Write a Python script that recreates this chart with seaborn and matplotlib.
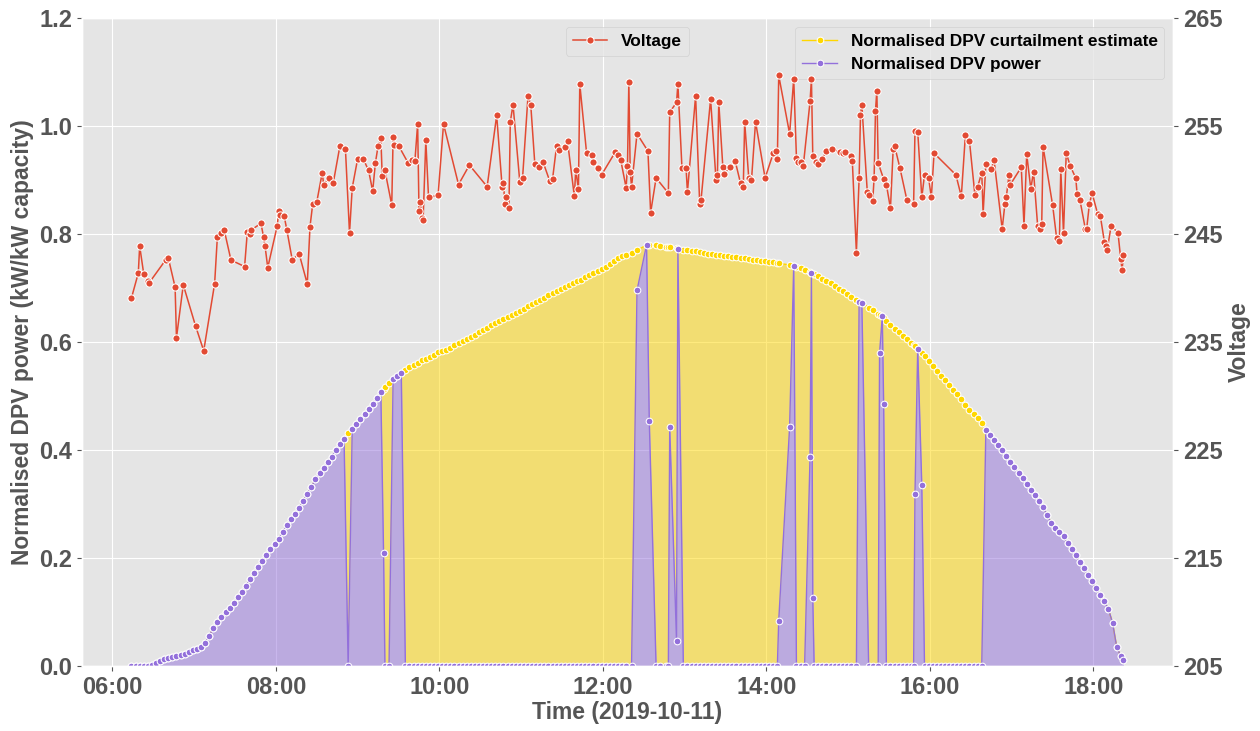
import pandas as pd
import matplotlib
matplotlib.use("Agg")
import matplotlib.pyplot as plt
import matplotlib.dates as mdates
import seaborn as sns

# ==============================
# Data
# ==============================

day = "2019-10-11"

volt_time = [
    "06:14", "06:19", "06:20", "06:23", "06:26", "06:27", "06:39", "06:41", "06:46", "06:47", "06:52",
    "07:01", "07:07", "07:15", "07:17", "07:20", "07:22", "07:27", "07:37", "07:39", "07:41", "07:42",
    "07:49", "07:51", "07:52", "07:54",
    "08:01", "08:02", "08:03", "08:06", "08:08", "08:12", "08:17", "08:23", "08:25", "08:27", "08:30",
    "08:34", "08:35", "08:39", "08:42", "08:47", "08:51", "08:54", "08:56",
    "09:00", "09:04", "09:08", "09:11", "09:13", "09:15", "09:17", "09:18", "09:20", "09:25", "09:26",
    "09:27", "09:30", "09:37", "09:40", "09:42", "09:44", "09:45", "09:46", "09:47", "09:48", "09:50",
    "09:52", "09:59",
    "10:03", "10:14", "10:22", "10:35", "10:42", "10:46", "10:47", "10:48", "10:49", "10:51", "10:52",
    "10:54", "10:59",
    "11:01", "11:05", "11:07", "11:10", "11:13", "11:16", "11:21", "11:23", "11:26", "11:28", "11:32",
    "11:34", "11:39", "11:40", "11:42", "11:43", "11:48", "11:52", "11:53", "11:56", "11:59",
    "12:09", "12:11", "12:13", "12:17", "12:18", "12:19", "12:20", "12:21", "12:25", "12:33", "12:35",
    "12:39", "12:48", "12:49", "12:54", "12:55", "12:58",
    "13:01", "13:02", "13:08", "13:11", "13:12", "13:19", "13:23", "13:24", "13:25", "13:28", "13:29",
    "13:33", "13:37", "13:41", "13:43", "13:44", "13:47", "13:49", "13:52", "13:59",
    "14:05", "14:07", "14:08", "14:09", "14:17", "14:20", "14:22", "14:23", "14:25", "14:27", "14:32",
    "14:33", "14:34", "14:36", "14:38", "14:41", "14:44", "14:48", "14:54", "14:56", "14:58",
    "15:02", "15:03", "15:06", "15:08", "15:09", "15:10", "15:14", "15:15", "15:18", "15:19", "15:20",
    "15:21", "15:22", "15:26", "15:28", "15:31", "15:33", "15:34", "15:38", "15:43", "15:48", "15:49",
    "15:51", "15:54", "15:56", "15:59",
    "16:01", "16:03", "16:19", "16:23", "16:26", "16:29", "16:33", "16:35", "16:38", "16:39", "16:41",
    "16:45", "16:47", "16:53", "16:55", "16:56", "16:58", "16:59",
    "17:07", "17:09", "17:11", "17:14", "17:16", "17:19", "17:21", "17:22", "17:23", "17:30", "17:33",
    "17:35", "17:36", "17:38", "17:40", "17:43", "17:47", "17:48", "17:50", "17:54", "17:55", "17:57",
    "17:59",
    "18:03", "18:05", "18:08", "18:09", "18:10", "18:13", "18:18", "18:20", "18:21", "18:22",
]
volt_value = [
    239.1, 241.4, 243.9, 241.3, 240.7, 240.5, 242.6, 242.8, 240.1, 235.4, 240.3,
    236.5, 234.2, 240.4, 244.7, 245.1, 245.4, 242.6, 242.0, 245.2, 245.0, 245.4,
    246.0, 244.7, 243.9, 241.9,
    245.8, 247.1, 246.8, 246.7, 245.4, 242.6, 243.2, 240.4, 245.7, 247.8, 248.0,
    250.7, 249.6, 250.2, 249.7, 253.2, 252.9, 245.1, 249.3,
    252.0, 252.0, 250.9, 249.0, 251.6, 253.2, 253.9, 250.4, 250.9, 247.7, 254.0,
    253.3, 253.2, 251.6, 251.9, 251.8, 255.2, 247.1, 248.0, 246.5, 246.3, 253.7,
    248.4, 248.6,
    255.2, 249.6, 251.4, 249.4, 256.0, 249.4, 249.7, 247.8, 248.4, 247.4, 255.4,
    257.0, 249.8,
    250.2, 257.8, 257.0, 251.5, 251.2, 251.7, 249.9, 250.1, 253.2, 252.8, 253.1,
    253.6, 248.5, 250.9, 249.2, 258.9, 252.5, 252.3, 251.7, 251.1, 250.5,
    252.6, 252.3, 251.9, 249.3, 251.3, 259.1, 250.8, 249.4, 254.3, 252.7, 247.0,
    250.2, 248.8, 256.3, 257.2, 258.9, 251.1,
    251.1, 248.9, 257.8, 247.8, 248.2, 257.5, 250.0, 250.5, 257.2, 251.2, 250.6,
    251.2, 251.8, 249.7, 249.4, 255.4, 250.2, 250.0, 255.4, 250.2,
    252.5, 252.7, 252.0, 259.7, 254.3, 259.4, 252.1, 251.7, 251.7, 251.3, 257.3,
    259.4, 252.2, 251.7, 251.5, 252.0, 252.7, 252.9, 252.6, 252.5, 252.6,
    252.2, 251.8, 243.3, 250.2, 256.0, 257.0, 248.9, 248.6, 248.1, 250.2, 256.4,
    258.3, 251.6, 250.1, 249.6, 247.4, 252.9, 253.2, 251.1, 248.2, 247.8, 254.6,
    254.5, 248.4, 250.5, 250.2,
    248.4, 252.5, 250.5, 248.5, 254.2, 253.6, 248.6, 249.4, 250.7, 246.9, 251.5,
    251.0, 251.9, 245.5, 247.8, 248.4, 250.5, 249.6,
    251.2, 245.8, 252.4, 249.2, 250.8, 245.8, 245.5, 245.9, 253.1, 247.7, 244.6,
    244.4, 251.0, 245.1, 252.5, 251.3, 250.2, 248.7, 248.2, 245.5, 245.5, 247.8,
    248.8,
    246.9, 246.7, 244.3, 243.9, 243.5, 245.8, 245.1, 242.7, 241.7, 243.1,
]

pwr_time = [
    "06:14", "06:17", "06:20", "06:23", "06:26", "06:29", "06:32", "06:35", "06:38", "06:41", "06:44",
    "06:47", "06:50", "06:53", "06:56", "06:59",
    "07:02", "07:05", "07:08", "07:11", "07:14", "07:17", "07:20", "07:23", "07:26", "07:29",
    "07:32", "07:35", "07:38", "07:41", "07:44", "07:47", "07:50", "07:53", "07:56", "07:59",
    "08:02", "08:05", "08:08", "08:11", "08:14", "08:17", "08:20", "08:23", "08:26", "08:29",
    "08:32", "08:35", "08:38", "08:41", "08:44", "08:47", "08:50", "08:53", "08:56", "08:59",
    "09:02", "09:05", "09:08", "09:11", "09:14", "09:17", "09:19", "09:20", "09:23", "09:26", "09:29",
    "09:32", "09:35", "09:38", "09:41", "09:44", "09:47", "09:50", "09:53", "09:56", "09:59",
    "10:02", "10:05", "10:08", "10:11", "10:14", "10:17", "10:20", "10:23", "10:26", "10:29",
    "10:32", "10:35", "10:38", "10:41", "10:44", "10:47", "10:50", "10:53", "10:56", "10:59",
    "11:02", "11:05", "11:08", "11:11", "11:14", "11:17", "11:20", "11:23", "11:26", "11:29",
    "11:32", "11:35", "11:38", "11:41", "11:44", "11:47", "11:50", "11:53", "11:56", "11:59",
    "12:02", "12:05", "12:08", "12:11", "12:14", "12:17", "12:21", "12:25", "12:32", "12:34",
    "12:39", "12:42", "12:46", "12:48", "12:49", "12:54", "12:55", "12:59",
    "13:02", "13:05", "13:08", "13:11", "13:14", "13:17", "13:20", "13:23", "13:26", "13:29",
    "13:32", "13:35", "13:38", "13:41", "13:44", "13:47", "13:50", "13:53", "13:56", "13:59",
    "14:02", "14:05", "14:08", "14:09", "14:17", "14:20", "14:22", "14:25", "14:28", "14:32", "14:33",
    "14:34", "14:35", "14:38", "14:41", "14:44", "14:47", "14:50", "14:53", "14:56", "14:59",
    "15:02", "15:06", "15:08", "15:10", "15:15", "15:18", "15:22", "15:23", "15:25", "15:26", "15:28",
    "15:31", "15:34", "15:37", "15:40", "15:43", "15:46", "15:48", "15:49", "15:51", "15:54", "15:56",
    "15:59",
    "16:02", "16:05", "16:08", "16:11", "16:14", "16:17", "16:20", "16:23", "16:26", "16:29",
    "16:32", "16:35", "16:38", "16:41", "16:44", "16:47", "16:50", "16:53", "16:56", "16:59",
    "17:02", "17:05", "17:08", "17:11", "17:14", "17:17", "17:20", "17:23", "17:26", "17:29",
    "17:32", "17:35", "17:38", "17:41", "17:44", "17:47", "17:50", "17:53", "17:56", "17:59",
    "18:02", "18:05", "18:08", "18:11", "18:14", "18:17", "18:20", "18:22",
]
# curtailment estimate = what the system could have produced
pwr_estimate = [
    0.0, 0.0, 0.0, 0.0, 0.0, 0.002, 0.005, 0.009, 0.012, 0.015, 0.017,
    0.018, 0.020, 0.022, 0.025, 0.029,
    0.032, 0.036, 0.043, 0.056, 0.070, 0.081, 0.091, 0.100, 0.108, 0.117,
    0.127, 0.137, 0.148, 0.161, 0.173, 0.184, 0.195, 0.206, 0.216, 0.226,
    0.236, 0.248, 0.261, 0.272, 0.282, 0.293, 0.306, 0.319, 0.332, 0.346,
    0.357, 0.367, 0.377, 0.388, 0.400, 0.411, 0.421, 0.431, 0.439, 0.448,
    0.458, 0.467, 0.476, 0.486, 0.496, 0.507, 0.513, 0.517, 0.524, 0.531, 0.538,
    0.543, 0.548, 0.553, 0.558, 0.562, 0.566, 0.569, 0.573, 0.577, 0.581,
    0.583, 0.586, 0.590, 0.594, 0.598, 0.602, 0.606, 0.610, 0.614, 0.619,
    0.623, 0.627, 0.632, 0.636, 0.639, 0.643, 0.647, 0.650, 0.654, 0.658,
    0.661, 0.666, 0.670, 0.674, 0.678, 0.682, 0.687, 0.691, 0.695, 0.699,
    0.703, 0.706, 0.709, 0.713, 0.716, 0.720, 0.724, 0.728, 0.731, 0.735,
    0.740, 0.745, 0.750, 0.755, 0.759, 0.762, 0.766, 0.770, 0.780, 0.780,
    0.779, 0.778, 0.777, 0.776, 0.776, 0.774, 0.773, 0.771,
    0.770, 0.769, 0.768, 0.767, 0.766, 0.764, 0.763, 0.762, 0.761, 0.760,
    0.759, 0.758, 0.757, 0.756, 0.755, 0.754, 0.753, 0.752, 0.751, 0.750,
    0.749, 0.748, 0.746, 0.746, 0.743, 0.741, 0.739, 0.737, 0.734, 0.729, 0.728,
    0.727, 0.726, 0.722, 0.717, 0.713, 0.709, 0.704, 0.699, 0.694, 0.689,
    0.684, 0.678, 0.675, 0.673, 0.664, 0.659, 0.652, 0.651, 0.648, 0.645, 0.639,
    0.632, 0.625, 0.618, 0.611, 0.605, 0.598, 0.594, 0.592, 0.588, 0.580, 0.574,
    0.565,
    0.555, 0.546, 0.538, 0.529, 0.520, 0.512, 0.503, 0.494, 0.484, 0.475,
    0.467, 0.459, 0.451, 0.438, 0.428, 0.419, 0.410, 0.401, 0.389, 0.378,
    0.368, 0.358, 0.348, 0.337, 0.326, 0.316, 0.305, 0.294, 0.280, 0.265,
    0.256, 0.248, 0.240, 0.228, 0.217, 0.205, 0.193, 0.181, 0.169, 0.157,
    0.144, 0.131, 0.120, 0.105, 0.080, 0.036, 0.018, 0.011,
]
# measured output
pwr_actual = [
    0.0, 0.0, 0.0, 0.0, 0.0, 0.002, 0.005, 0.009, 0.012, 0.015, 0.017,
    0.018, 0.020, 0.022, 0.025, 0.029,
    0.032, 0.036, 0.043, 0.056, 0.070, 0.081, 0.091, 0.100, 0.108, 0.117,
    0.127, 0.137, 0.148, 0.161, 0.173, 0.184, 0.195, 0.206, 0.216, 0.226,
    0.236, 0.248, 0.261, 0.272, 0.282, 0.293, 0.306, 0.319, 0.332, 0.346,
    0.357, 0.367, 0.377, 0.388, 0.400, 0.411, 0.421, 0.0, 0.439, 0.448,
    0.458, 0.467, 0.476, 0.486, 0.496, 0.507, 0.209, 0.0, 0.0, 0.531, 0.538,
    0.543, 0.0, 0.0, 0.0, 0.0, 0.0, 0.0, 0.0, 0.0, 0.0,
    0.0, 0.0, 0.0, 0.0, 0.0, 0.0, 0.0, 0.0, 0.0, 0.0,
    0.0, 0.0, 0.0, 0.0, 0.0, 0.0, 0.0, 0.0, 0.0, 0.0,
    0.0, 0.0, 0.0, 0.0, 0.0, 0.0, 0.0, 0.0, 0.0, 0.0,
    0.0, 0.0, 0.0, 0.0, 0.0, 0.0, 0.0, 0.0, 0.0, 0.0,
    0.0, 0.0, 0.0, 0.0, 0.0, 0.0, 0.0, 0.696, 0.780, 0.454,
    0.0, 0.0, 0.0, 0.0, 0.443, 0.047, 0.773, 0.0,
    0.0, 0.0, 0.0, 0.0, 0.0, 0.0, 0.0, 0.0, 0.0, 0.0,
    0.0, 0.0, 0.0, 0.0, 0.0, 0.0, 0.0, 0.0, 0.0, 0.0,
    0.0, 0.0, 0.0, 0.084, 0.443, 0.741, 0.0, 0.0, 0.0, 0.388, 0.728,
    0.125, 0.0, 0.0, 0.0, 0.0, 0.0, 0.0, 0.0, 0.0, 0.0,
    0.0, 0.0, 0.675, 0.673, 0.0, 0.0, 0.0, 0.579, 0.648, 0.486, 0.0,
    0.0, 0.0, 0.0, 0.0, 0.0, 0.0, 0.0, 0.318, 0.588, 0.335, 0.0,
    0.0,
    0.0, 0.0, 0.0, 0.0, 0.0, 0.0, 0.0, 0.0, 0.0, 0.0,
    0.0, 0.0, 0.0, 0.438, 0.428, 0.419, 0.410, 0.401, 0.389, 0.378,
    0.368, 0.358, 0.348, 0.337, 0.326, 0.316, 0.305, 0.294, 0.280, 0.265,
    0.256, 0.248, 0.240, 0.228, 0.217, 0.205, 0.193, 0.181, 0.169, 0.157,
    0.144, 0.131, 0.120, 0.105, 0.080, 0.036, 0.018, 0.011,
]

volt_ticks = [205, 215, 225, 235, 245, 255, 265]
pwr_ticks = [0.0, 0.2, 0.4, 0.6, 0.8, 1.0, 1.2]


# ==============================
# Style
# ==============================

plt.style.use("ggplot")
plt.rcParams["font.family"] = ["Liberation Sans", "DejaVu Sans"]
plt.rcParams["font.weight"] = "bold"
plt.rcParams["axes.labelweight"] = "bold"

grey = "#555555"
tick_size = 17
label_size = 16.5
legend_font = {"size": 12.4, "weight": "bold"}


def stamp(times):
    return pd.to_datetime([f"{day} {t}" for t in times])


volt = pd.DataFrame({"time": stamp(volt_time), "voltage": volt_value})
pwr = pd.DataFrame({"time": stamp(pwr_time), "estimate": pwr_estimate, "power": pwr_actual})


# ==============================
# Plot
# ==============================

fig, ax1 = plt.subplots(figsize=(12.6, 7.31), dpi=100)
fig.subplots_adjust(left=0.065, right=0.931, bottom=0.089, top=0.975)

sns.lineplot(data=pwr, x="time", y="estimate", ax=ax1, color="gold", marker="o",
             markersize=4.8, linewidth=1.0, estimator=None, sort=False,
             label="Normalised DPV curtailment estimate")
ax1.fill_between(pwr["time"], pwr["power"], pwr["estimate"], color="gold",
                 alpha=0.5, linewidth=0)

sns.lineplot(data=pwr, x="time", y="power", ax=ax1, color="mediumpurple", marker="o",
             markersize=4.8, linewidth=1.0, estimator=None, sort=False,
             label="Normalised DPV power")
ax1.fill_between(pwr["time"], 0, pwr["power"], color="mediumpurple",
                 alpha=0.5, linewidth=0)

ax2 = ax1.twinx()
sns.lineplot(data=volt, x="time", y="voltage", ax=ax2, color="#E24A33", marker="o",
             markersize=5.2, linewidth=1.1, estimator=None, sort=False, label="Voltage")
ax2.grid(False)

ax1.set_ylim(0, 1.2)
ax1.set_yticks(pwr_ticks)
ax2.set_ylim(205, 265)
ax2.set_yticks(volt_ticks)

ax1.xaxis.set_major_locator(mdates.HourLocator(byhour=range(6, 19, 2)))
ax1.xaxis.set_major_formatter(mdates.DateFormatter("%H:%M"))

ax1.set_xlabel("Time (2019-10-11)", fontsize=label_size, color=grey, labelpad=2)
ax1.set_ylabel("Normalised DPV power (kW/kW capacity)", fontsize=label_size, color=grey)
ax2.set_ylabel("Voltage", fontsize=label_size, color=grey)

for ax in (ax1, ax2):
    ax.tick_params(labelsize=tick_size, colors=grey)

ax1.legend(loc="upper right", prop=legend_font)
ax2.legend(loc="upper center", prop=legend_font)

fig.savefig("out.png", dpi=100)
